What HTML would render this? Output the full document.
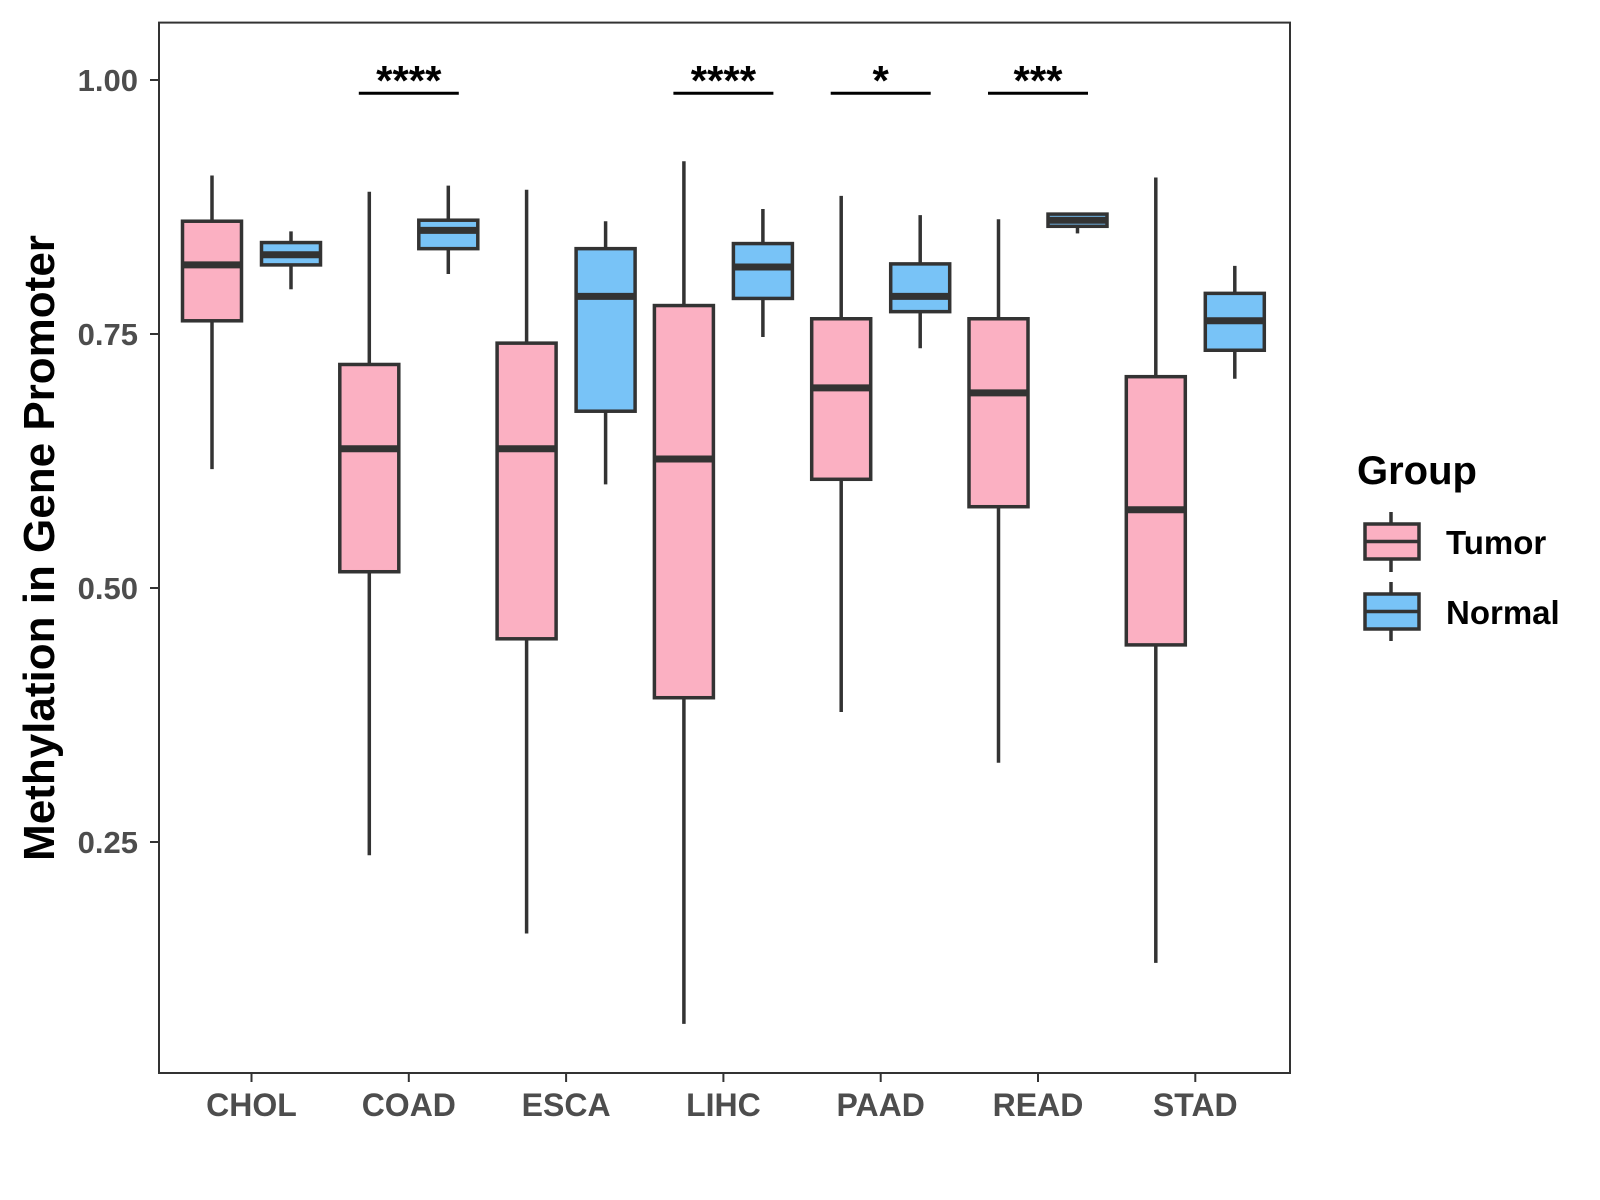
<!DOCTYPE html>
<html><head><meta charset="utf-8"><style>
body{margin:0;background:#fff}
svg{display:block;font-family:"Liberation Sans",Arial,sans-serif;font-weight:bold}
</style></head><body>
<svg id="chart" width="1600" height="1200" viewBox="0 0 1600 1200">
<rect x="0" y="0" width="1600" height="1200" fill="#fff"/>
<g id="marks"></g>
<rect x="159" y="22.6" width="1131" height="1050.4" fill="none" stroke="#333" stroke-width="2"/>
<text x="0" y="0" transform="translate(54,548) rotate(-90)" text-anchor="middle" font-size="44" fill="#000">Methylation in Gene Promoter</text>
<text x="1357" y="484" font-size="40" fill="#000">Group</text>
<g>
<line x1="1391" y1="512" x2="1391" y2="572" stroke="#333" stroke-width="3.5"/>
<rect x="1365" y="524" width="54" height="35" fill="#FBB0C2" stroke="#333" stroke-width="3.5"/>
<line x1="1365" y1="541.5" x2="1419" y2="541.5" stroke="#333" stroke-width="3.5"/>
<text x="1446" y="554" font-size="33" fill="#000">Tumor</text>
</g>
<g>
<line x1="1391" y1="582" x2="1391" y2="641" stroke="#333" stroke-width="3.5"/>
<rect x="1365" y="594" width="54" height="35" fill="#78C3F7" stroke="#333" stroke-width="3.5"/>
<line x1="1365" y1="611.5" x2="1419" y2="611.5" stroke="#333" stroke-width="3.5"/>
<text x="1446" y="624" font-size="33" fill="#000">Normal</text>
</g>
</svg>
<script>
const categories=["CHOL","COAD","ESCA","LIHC","PAAD","READ","STAD"];
const tumorLow=[0.617,0.237,0.160,0.071,0.378,0.328,0.131];
const tumorQ1=[0.763,0.516,0.450,0.392,0.607,0.580,0.444];
const tumorMed=[0.818,0.637,0.637,0.627,0.697,0.692,0.577];
const tumorQ3=[0.861,0.720,0.741,0.778,0.765,0.765,0.708];
const tumorHigh=[0.906,0.890,0.892,0.920,0.886,0.863,0.904];
const normalLow=[0.794,0.809,0.602,0.747,0.736,0.849,0.706];
const normalQ1=[0.818,0.834,0.674,0.785,0.772,0.856,0.734];
const normalMed=[0.828,0.852,0.787,0.816,0.787,0.862,0.763];
const normalQ3=[0.840,0.862,0.834,0.839,0.819,0.868,0.790];
const normalHigh=[0.851,0.896,0.861,0.873,0.867,0.868,0.817];
const sigLabels=["","****","","****","*","***",""];
const yTicks=[0.25,0.50,0.75,1.00];
const yTickLabels=["0.25","0.50","0.75","1.00"];
const sigLevel=0.987;

const NS="http://www.w3.org/2000/svg";
const svg=document.getElementById('chart');
const g=document.getElementById('marks');
function y(v){return 80+(1-v)*1016;}
function x(i){return 251.5+i*157.3;}
function mk(tag,attrs,parent){const e=document.createElementNS(NS,tag);for(const k in attrs)e.setAttribute(k,attrs[k]);(parent||g).appendChild(e);return e;}
const LW=3.5, BW=59;
function box(i,off,lo,q1,md,q3,hi,fill,name){
  const grp=mk('g',{});
  
  
  const cx=x(i)+off;
  mk('line',{x1:cx,x2:cx,y1:y(hi),y2:y(lo),stroke:'#333','stroke-width':LW},grp);
  mk('rect',{x:cx-BW/2,y:y(q3),width:BW,height:Math.max(1,y(q1)-y(q3)),fill:fill,stroke:'#333','stroke-width':LW},grp);
  mk('line',{x1:cx-BW/2,x2:cx+BW/2,y1:y(md),y2:y(md),stroke:'#333','stroke-width':7},grp);
}
categories.forEach((c,i)=>{
  box(i,-39.5,tumorLow[i],tumorQ1[i],tumorMed[i],tumorQ3[i],tumorHigh[i],'#FBB0C2','box-tumor-'+c.toLowerCase());
  box(i,39.5,normalLow[i],normalQ1[i],normalMed[i],normalQ3[i],normalHigh[i],'#78C3F7','box-normal-'+c.toLowerCase());
  const t=mk('line',{x1:x(i),x2:x(i),y1:1073,y2:1082,stroke:'#333','stroke-width':2},svg);
  
  
  const lb=mk('text',{x:x(i),y:1116,'text-anchor':'middle','font-size':32,fill:'#4d4d4d'},svg);
  lb.textContent=c;
  
  
  if(sigLabels[i]){
    const sl=mk('line',{x1:x(i)-50,x2:x(i)+50,y1:y(sigLevel),y2:y(sigLevel),stroke:'#000','stroke-width':3});
    
    
    const st=mk('text',{x:x(i),y:y(sigLevel)+2,'text-anchor':'middle','font-size':42,fill:'#000'});
    st.textContent=sigLabels[i];
    
    
  }
});
yTicks.forEach((v,k)=>{
  const t=mk('line',{x1:150,x2:159,y1:y(v),y2:y(v),stroke:'#333','stroke-width':2},svg);
  
  
  const lb=mk('text',{x:138,y:y(v)+11,'text-anchor':'end','font-size':31,fill:'#4d4d4d'},svg);
  lb.textContent=yTickLabels[k];
  
  
});
</script>
</body></html>
